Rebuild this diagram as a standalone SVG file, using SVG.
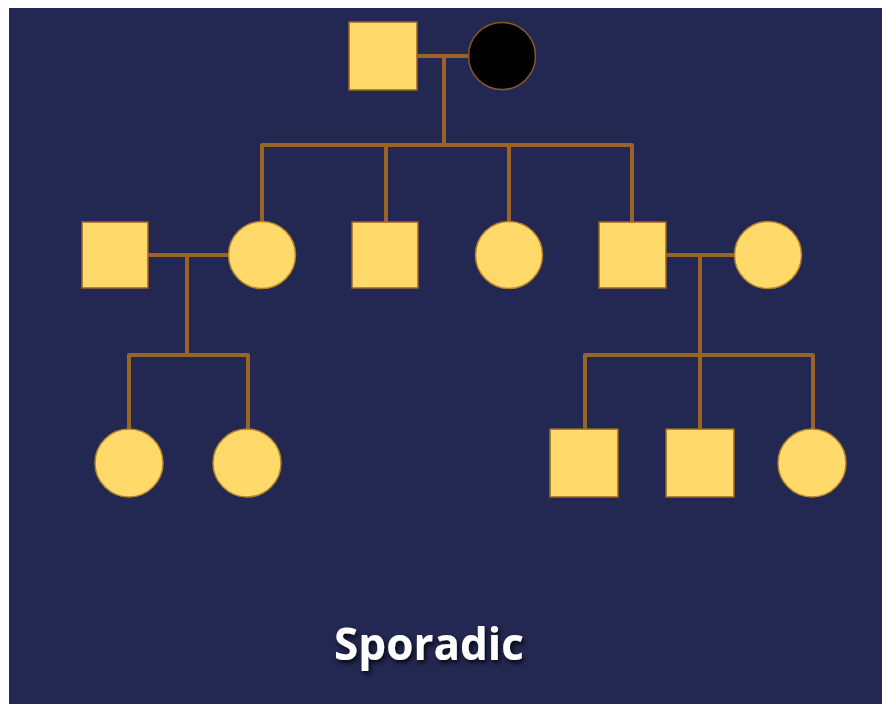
<svg xmlns="http://www.w3.org/2000/svg" width="882" height="704" viewBox="0 0 882 704">
  <defs>
    <style>
      .line { fill: none; stroke: #9a6426; stroke-width: 4; stroke-linejoin: round; stroke-linecap: butt; }
      .male { fill: #ffda6a; stroke: #9a6426; stroke-width: 1.5; }
      .female { fill: #ffda6a; stroke: #b4822a; stroke-width: 1.5; }
      .affected { fill: #000000; stroke: #8a5a22; stroke-width: 1.5; }
      .title { font-family: "Open Sans", "DejaVu Sans", sans-serif; font-weight: bold; font-size: 44px; fill: #ffffff; }
    </style>
    <filter id="shadow" x="-10%" y="-30%" width="120%" height="160%">
      <feDropShadow dx="2" dy="3" stdDeviation="2.5" flood-color="#000000" flood-opacity="0.8"/>
    </filter>
  </defs>

  <rect x="0" y="0" width="882" height="704" fill="#ffffff"/>
  <rect x="9" y="8" width="873" height="696" fill="#222851"/>

  <!-- connectors -->
  <g id="connectors">
    <!-- generation I couple -->
    <path class="line" d="M417 56 H468"/>
    <path class="line" d="M444 56 V145"/>
    <path class="line" d="M262 222 V145 H632 V222"/>
    <path class="line" d="M386 145 V222"/>
    <path class="line" d="M509 145 V222"/>
    <!-- generation II left couple -->
    <path class="line" d="M148 255 H229"/>
    <path class="line" d="M187 255 V355"/>
    <path class="line" d="M129 429 V355 H248 V429"/>
    <!-- generation II right couple -->
    <path class="line" d="M666 255 H735"/>
    <path class="line" d="M700 255 V355"/>
    <path class="line" d="M585 429 V355 H813 V429"/>
    <path class="line" d="M700 355 V429"/>
  </g>

  <!-- generation I -->
  <g id="gen1-father"><rect class="male" x="349" y="22" width="68" height="68"/></g>
  <g id="gen1-mother"><circle class="affected" cx="502" cy="56" r="33.5"/></g>

  <!-- generation II -->
  <g id="gen2-husband-left"><rect class="male" x="82" y="222" width="66" height="66"/></g>
  <g id="gen2-daughter-1"><circle class="female" cx="262" cy="255" r="33.5"/></g>
  <g id="gen2-son-1"><rect class="male" x="352" y="222" width="66" height="66"/></g>
  <g id="gen2-daughter-2"><circle class="female" cx="509" cy="255" r="33.5"/></g>
  <g id="gen2-son-2"><rect class="male" x="599" y="222" width="67" height="66"/></g>
  <g id="gen2-wife-right"><circle class="female" cx="768" cy="255" r="33.5"/></g>

  <!-- generation III -->
  <g id="gen3-left-daughter-1"><circle class="female" cx="129" cy="463" r="34"/></g>
  <g id="gen3-left-daughter-2"><circle class="female" cx="247" cy="463" r="34"/></g>
  <g id="gen3-right-son-1"><rect class="male" x="550" y="429" width="68" height="68"/></g>
  <g id="gen3-right-son-2"><rect class="male" x="666" y="429" width="68" height="68"/></g>
  <g id="gen3-right-daughter"><circle class="female" cx="812" cy="463" r="34"/></g>

  <text class="title" x="429" y="660" text-anchor="middle" filter="url(#shadow)">Sporadic</text>
</svg>
